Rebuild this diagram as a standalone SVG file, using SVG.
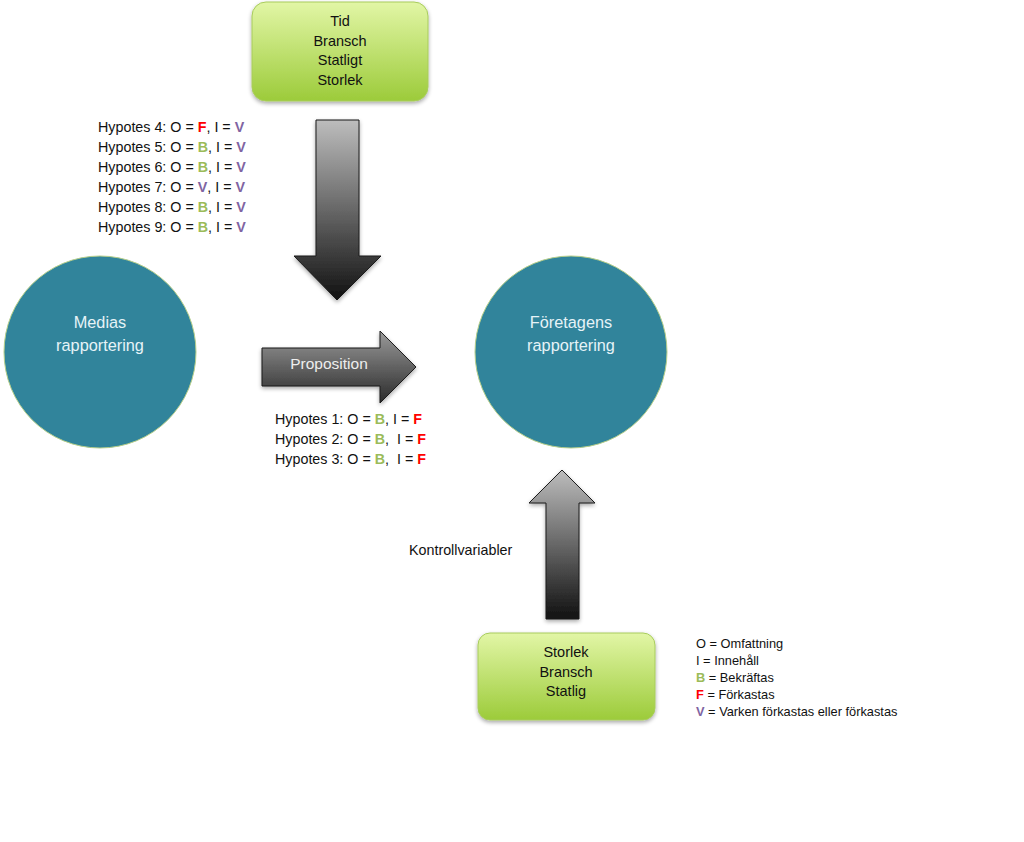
<svg xmlns="http://www.w3.org/2000/svg" width="1024" height="842" viewBox="0 0 1024 842">
<defs>
<linearGradient id="gBox" x1="0" y1="0" x2="0" y2="1">
<stop offset="0" stop-color="#e2f6a6"/>
<stop offset="1" stop-color="#9ccb3a"/>
</linearGradient>
<linearGradient id="gArrowV" x1="0" y1="0" x2="0" y2="1">
<stop offset="0" stop-color="#bdbdbd"/>
<stop offset="1" stop-color="#111111"/>
</linearGradient>
<linearGradient id="gArrowP" x1="0" y1="0" x2="0" y2="1">
<stop offset="0" stop-color="#9a9a9a"/>
<stop offset="1" stop-color="#2a2a2a"/>
</linearGradient>
<filter id="sh" x="-20%" y="-20%" width="140%" height="150%">
<feGaussianBlur in="SourceAlpha" stdDeviation="2"/>
<feOffset dx="0" dy="2" result="b"/>
<feComponentTransfer><feFuncA type="linear" slope="0.35"/></feComponentTransfer>
<feMerge><feMergeNode/><feMergeNode in="SourceGraphic"/></feMerge>
</filter>
</defs>
<style>
text{font-family:"Liberation Sans",Arial,sans-serif;}
.box{fill:url(#gBox);stroke:#a8cc5c;stroke-width:1;filter:url(#sh);}
.circ{fill:#31849b;stroke:#b7cf8a;stroke-width:1;}
.arr{stroke:#1a1a1a;stroke-width:1;filter:url(#sh);}
.bt{font-size:14.5px;fill:#111;text-anchor:middle;}
.ct{font-size:16.3px;fill:#e6f3f7;text-anchor:middle;}
.hy{font-size:14.3px;fill:#111;}
.lg{font-size:12.8px;fill:#111;}
.B{fill:#9bbb59;font-weight:bold;}
.F{fill:#ff0000;font-weight:bold;}
.V{fill:#8064a2;font-weight:bold;}
</style>
<rect width="1024" height="842" fill="#ffffff"/>

<g id="connectors">
<path class="arr" fill="url(#gArrowV)" d="M316,120 H359 V256 H381 L337,300 L294,256 H316 Z"/>
<path class="arr" fill="url(#gArrowP)" d="M262,348 H380 V331 L416,367 L380,403 V386 H262 Z"/>
<path class="arr" fill="url(#gArrowV)" d="M546,619 V503 H529 L562,470 L595,503 H579 V619 Z"/>
<text x="329" y="369" font-size="15.5px" fill="#eeeeee" text-anchor="middle">Proposition</text>
</g>

<g id="top-box">
<rect class="box" x="252" y="2" width="176" height="99" rx="14"/>
<text class="bt" x="340" y="26">Tid</text>
<text class="bt" x="340" y="46">Bransch</text>
<text class="bt" x="340" y="65">Statligt</text>
<text class="bt" x="340" y="85">Storlek</text>
</g>

<g id="medias">
<circle class="circ" cx="100" cy="352" r="96"/>
<text class="ct" x="100" y="328">Medias</text>
<text class="ct" x="100" y="351">rapportering</text>
</g>

<g id="foretagens">
<circle class="circ" cx="571" cy="352" r="96"/>
<text class="ct" x="571" y="328">Företagens</text>
<text class="ct" x="571" y="351">rapportering</text>
</g>

<g id="bottom-box">
<rect class="box" x="478" y="633" width="177" height="87" rx="12"/>
<text class="bt" x="566" y="657">Storlek</text>
<text class="bt" x="566" y="677">Bransch</text>
<text class="bt" x="566" y="696">Statlig</text>
</g>

<g id="hypotheses-upper">
<text class="hy" x="98" y="132">Hypotes 4: O = <tspan class="F">F</tspan>, I = <tspan class="V">V</tspan></text>
<text class="hy" x="98" y="152">Hypotes 5: O = <tspan class="B">B</tspan>, I = <tspan class="V">V</tspan></text>
<text class="hy" x="98" y="172">Hypotes 6: O = <tspan class="B">B</tspan>, I = <tspan class="V">V</tspan></text>
<text class="hy" x="98" y="192">Hypotes 7: O = <tspan class="V">V</tspan>, I = <tspan class="V">V</tspan></text>
<text class="hy" x="98" y="212">Hypotes 8: O = <tspan class="B">B</tspan>, I = <tspan class="V">V</tspan></text>
<text class="hy" x="98" y="232">Hypotes 9: O = <tspan class="B">B</tspan>, I = <tspan class="V">V</tspan></text>
</g>

<g id="hypotheses-lower">
<text class="hy" x="275" y="424">Hypotes 1: O = <tspan class="B">B</tspan>, I = <tspan class="F">F</tspan></text>
<text class="hy" x="275" y="444">Hypotes 2: O = <tspan class="B">B</tspan>, <tspan dx="4">I = </tspan><tspan class="F">F</tspan></text>
<text class="hy" x="275" y="464">Hypotes 3: O = <tspan class="B">B</tspan>, <tspan dx="4">I = </tspan><tspan class="F">F</tspan></text>
</g>

<g id="kontroll">
<text class="hy" x="409" y="555" font-size="15px">Kontrollvariabler</text>
</g>

<g id="legend">
<text class="lg" x="696" y="648">O = Omfattning</text>
<text class="lg" x="696" y="665">I = Innehåll</text>
<text class="lg" x="696" y="682"><tspan class="B">B</tspan> = Bekräftas</text>
<text class="lg" x="696" y="699"><tspan class="F">F</tspan> = Förkastas</text>
<text class="lg" x="696" y="716"><tspan class="V">V</tspan> = Varken förkastas eller förkastas</text>
</g>
</svg>
